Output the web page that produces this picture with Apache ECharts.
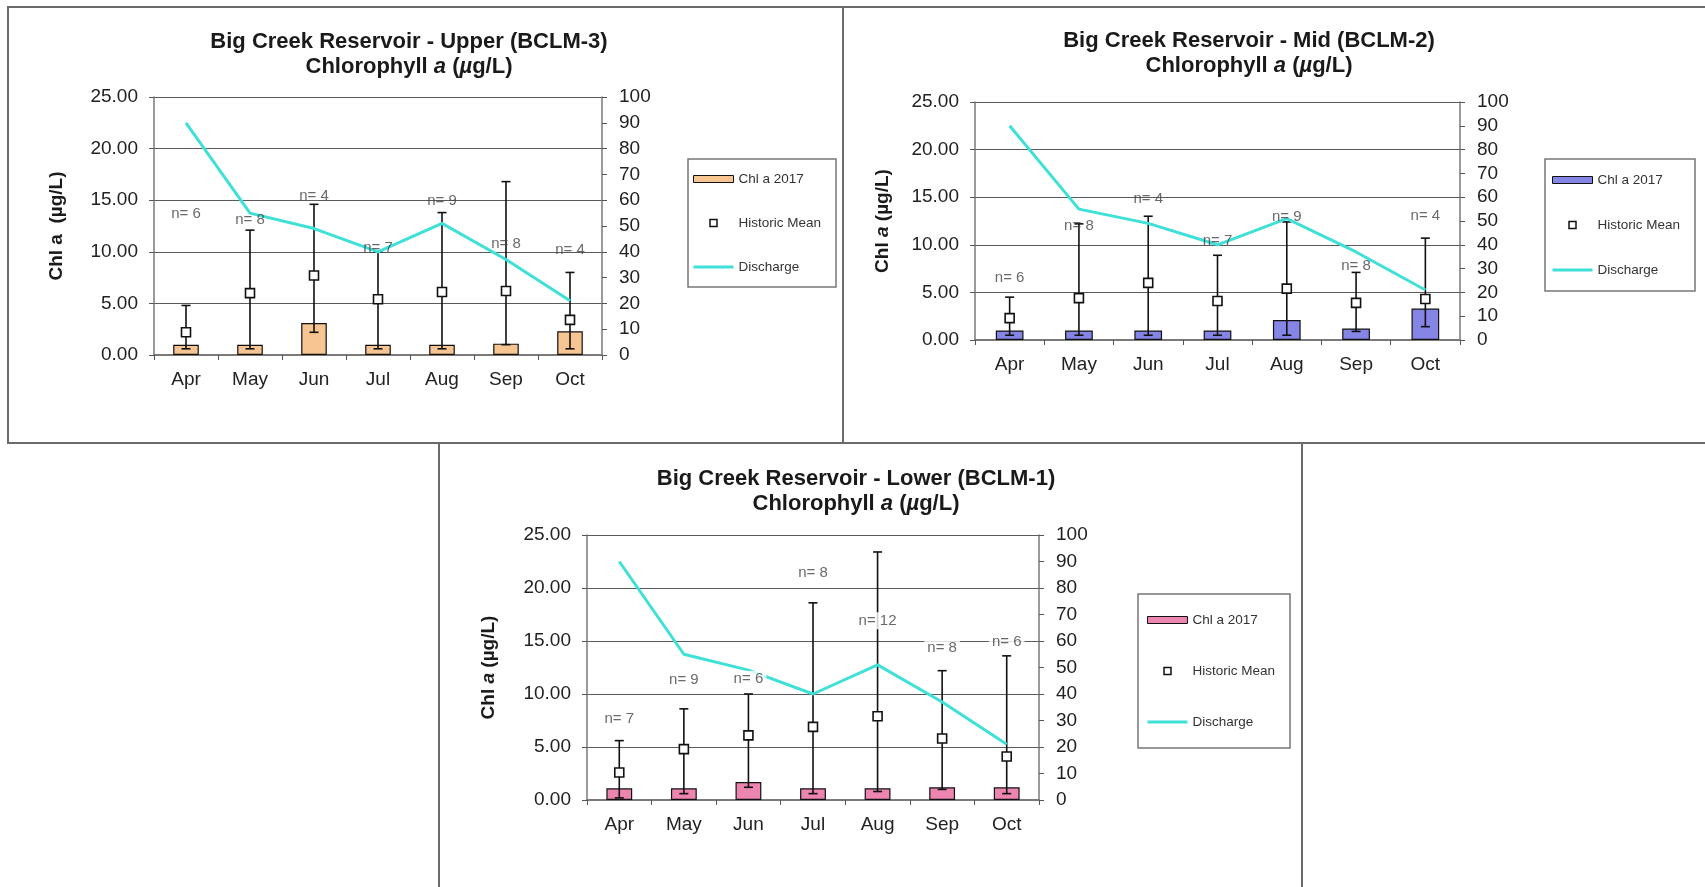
<!DOCTYPE html>
<html>
<head>
<meta charset="utf-8">
<script src="https://cdn.jsdelivr.net/npm/echarts@6/dist/echarts.min.js"></script>
<style>
  html, body { margin: 0; padding: 0; background: #fff; }
  #chart { width: 1705px; height: 887px; }
</style>
</head>
<body>
<div id="chart"></div>
<script>
// Sampling months and monthly discharge (right axis, same for every station)
const months = ['Apr', 'May', 'Jun', 'Jul', 'Aug', 'Sep', 'Oct'];
const discharge = [90, 55, 49, 40, 51, 37, 21];
const leftTicks = [0, 5, 10, 15, 20, 25];
const rightTicks = [0, 10, 20, 30, 40, 50, 60, 70, 80, 90, 100];

// Upper station (BCLM-3)
const upperChl2017 = [1.0, 1.0, 3.1, 1.0, 1.0, 1.1, 2.3];
const upperMean = [2.2, 6.0, 7.7, 5.4, 6.1, 6.2, 3.4];
const upperMin = [0.6, 0.6, 2.2, 0.6, 0.6, 1.0, 0.6];
const upperMax = [4.8, 12.1, 14.6, 10.0, 13.8, 16.8, 8.0];
const upperN = [6, 8, 4, 7, 9, 8, 4];
const upperNLabelAt = [13.7, 13.1, 15.4, 10.4, 14.9, 10.8, 10.2];

// Mid station (BCLM-2)
const midChl2017 = [1.0, 1.0, 1.0, 1.0, 2.1, 1.2, 3.3];
const midMean = [2.3, 4.4, 6.0, 4.1, 5.4, 3.9, 4.3];
const midMin = [0.5, 0.5, 0.5, 0.5, 0.5, 0.9, 1.4];
const midMax = [4.5, 12.2, 13.0, 8.9, 12.4, 7.1, 10.7];
const midN = [6, 8, 4, 7, 9, 8, 4];
const midNLabelAt = [6.5, 12.0, 14.8, 10.4, 12.95, 7.8, 13.0];

// Lower station (BCLM-1)
const lowerChl2017 = [1.1, 1.1, 1.7, 1.1, 1.1, 1.2, 1.2];
const lowerMean = [2.6, 4.8, 6.1, 6.9, 7.9, 5.8, 4.1];
const lowerMin = [0.2, 0.6, 1.2, 0.6, 0.8, 1.0, 0.6];
const lowerMax = [5.6, 8.6, 10.0, 18.6, 23.4, 12.2, 13.6];
const lowerN = [7, 9, 6, 8, 12, 8, 6];
const lowerNLabelAt = [7.7, 11.3, 11.4, 21.4, 16.9, 14.4, 14.9];

const FONT = '"Liberation Sans", Arial, sans-serif';
const CYAN = '#3ee0d8';

const panels = [
  {
    title: 'Big Creek Reservoir - Upper (BCLM-3)',
    yName: 'Chl a  (\u00b5g/L)',
    chl: upperChl2017, mean: upperMean, lo: upperMin, hi: upperMax, n: upperN, nAt: upperNLabelAt,
    color: '#f7c592',
    grid: { left: 154, top: 97, width: 448, height: 258 },
    titleX: 409, titleTop: 29, nameGap: 88,
    legend: { left: 688, top: 159, itemGap: 30, padding: [13, 15, 13, 5] },
    labelBg: null
  },
  {
    title: 'Big Creek Reservoir - Mid (BCLM-2)',
    yName: 'Chl {i|a} (\u00b5g/L)',
    chl: midChl2017, mean: midMean, lo: midMin, hi: midMax, n: midN, nAt: midNLabelAt,
    color: '#8585e6',
    grid: { left: 975, top: 102, width: 485, height: 238 },
    titleX: 1249, titleTop: 28, nameGap: 83,
    legend: { left: 1545, top: 159, itemGap: 31, padding: [14, 15, 14, 7] },
    labelBg: null
  },
  {
    title: 'Big Creek Reservoir - Lower (BCLM-1)',
    yName: 'Chl {i|a} (\u00b5g/L)',
    chl: lowerChl2017, mean: lowerMean, lo: lowerMin, hi: lowerMax, n: lowerN, nAt: lowerNLabelAt,
    color: '#ec85b0',
    grid: { left: 587, top: 535, width: 452, height: 265 },
    titleX: 856, titleTop: 466, nameGap: 89,
    legend: { left: 1138, top: 594, itemGap: 37, padding: [19, 15, 19, 9] },
    labelBg: '#fff'
  }
];

// Vertical min–max whisker with caps, placed through the axes' coordinate system
function errorBar(params, api) {
  const x = api.value(0);
  const lo = api.coord([x, api.value(1)]);
  const hi = api.coord([x, api.value(2)]);
  const cap = 4.5;
  const st = { stroke: '#111', lineWidth: 1.6 };
  return {
    type: 'group',
    children: [
      { type: 'line', shape: { x1: lo[0], y1: lo[1], x2: hi[0], y2: hi[1] }, style: st },
      { type: 'line', shape: { x1: hi[0] - cap, y1: hi[1], x2: hi[0] + cap, y2: hi[1] }, style: st },
      { type: 'line', shape: { x1: lo[0] - cap, y1: lo[1], x2: lo[0] + cap, y2: lo[1] }, style: st }
    ]
  };
}

const option = {
  animation: false,
  backgroundColor: '#fff',
  textStyle: { fontFamily: FONT },
  title: [], grid: [], xAxis: [], yAxis: [], legend: [], series: [],
  graphic: [
    { type: 'rect', shape: { x: 8, y: 7, width: 835, height: 436 }, style: { fill: 'none', stroke: '#6a6a6a', lineWidth: 2 } },
    { type: 'rect', shape: { x: 843, y: 7, width: 880, height: 436 }, style: { fill: 'none', stroke: '#6a6a6a', lineWidth: 2 } },
    { type: 'rect', shape: { x: 439, y: 443, width: 863, height: 470 }, style: { fill: 'none', stroke: '#6a6a6a', lineWidth: 2 } }
  ]
};

panels.forEach((p, i) => {
  option.title.push({
    text: p.title + '\nChlorophyll {i|a} ({i|\u00b5}g/L)',
    left: p.titleX, top: p.titleTop, textAlign: 'center', padding: 0,
    textStyle: {
      fontFamily: FONT, fontSize: 22, fontWeight: 'bold', color: '#1a1a1a', lineHeight: 25,
      rich: { i: { fontFamily: FONT, fontSize: 22, fontWeight: 'bold', fontStyle: 'italic', color: '#1a1a1a', lineHeight: 25 } }
    }
  });

  option.grid.push(Object.assign({ containLabel: false }, p.grid));

  option.xAxis.push({
    gridIndex: i, type: 'category', data: months, boundaryGap: true,
    axisLine: { show: true, lineStyle: { color: '#7a7a7a', width: 2 } },
    axisTick: { show: true, length: 5, lineStyle: { color: '#555' } },
    axisLabel: { fontFamily: FONT, fontSize: 19, color: '#222', margin: 15 },
    splitLine: { show: false }
  });

  option.yAxis.push({
    gridIndex: i, type: 'value', position: 'left',
    min: leftTicks[0], max: leftTicks[leftTicks.length - 1], interval: leftTicks[1] - leftTicks[0],
    name: p.yName, nameLocation: 'middle', nameGap: p.nameGap,
    nameTextStyle: {
      fontFamily: FONT, fontSize: 19, fontWeight: 'bold', color: '#1a1a1a',
      rich: { i: { fontFamily: FONT, fontSize: 19, fontWeight: 'bold', fontStyle: 'italic', color: '#1a1a1a' } }
    },
    axisLine: { show: true, lineStyle: { color: '#7a7a7a', width: 1.5 } },
    axisTick: { show: true, length: 5, lineStyle: { color: '#555' } },
    axisLabel: { fontFamily: FONT, fontSize: 19, color: '#222', margin: 16, formatter: v => v.toFixed(2) },
    splitLine: { show: true, lineStyle: { color: '#5a5a5a', width: 1 } }
  });

  option.yAxis.push({
    gridIndex: i, type: 'value', position: 'right',
    min: rightTicks[0], max: rightTicks[rightTicks.length - 1], interval: rightTicks[1] - rightTicks[0],
    axisLine: { show: true, lineStyle: { color: '#7a7a7a', width: 1.5 } },
    axisTick: { show: true, length: 5, lineStyle: { color: '#555' } },
    axisLabel: { fontFamily: FONT, fontSize: 19, color: '#222', margin: 17 },
    splitLine: { show: false }
  });

  option.legend.push({
    orient: 'vertical', align: 'left', selectedMode: false,
    left: p.legend.left, top: p.legend.top, itemGap: p.legend.itemGap, padding: p.legend.padding,
    itemWidth: 40, itemHeight: 7,
    borderColor: '#777', borderWidth: 1.5,
    textStyle: { fontFamily: FONT, fontSize: 13.5, color: '#333' },
    data: [
      { name: 'Chl a 2017', icon: 'rect', itemStyle: { color: p.color, borderColor: '#111', borderWidth: 1 } },
      { name: 'Historic Mean', icon: 'path://M0,0H10V10H0Z', itemStyle: { color: '#fff', borderColor: '#111', borderWidth: 1.5 } },
      { name: 'Discharge', icon: 'path://M0,0H40V3H0Z', itemStyle: { color: CYAN, borderWidth: 0 } }
    ]
  });

  const xi = i, yl = 2 * i, yr = 2 * i + 1;

  option.series.push({
    name: 'Chl a 2017', type: 'bar', xAxisIndex: xi, yAxisIndex: yl,
    data: p.chl, barWidth: '40%', z: 2,
    itemStyle: { color: p.color, borderColor: '#111', borderWidth: 1.2 }
  });

  option.series.push({
    name: 'Range', type: 'custom', xAxisIndex: xi, yAxisIndex: yl, z: 3,
    data: p.lo.map((v, k) => [k, v, p.hi[k]]),
    encode: { x: 0, y: [1, 2] },
    renderItem: errorBar
  });

  option.series.push({
    name: 'Historic Mean', type: 'scatter', xAxisIndex: xi, yAxisIndex: yl, z: 4,
    data: p.mean, symbol: 'rect', symbolSize: 9,
    itemStyle: { color: '#fff', borderColor: '#111', borderWidth: 1.6, opacity: 1 }
  });

  option.series.push({
    name: 'Discharge', type: 'line', xAxisIndex: xi, yAxisIndex: yr, z: 5,
    data: discharge, symbol: 'none', showSymbol: false,
    lineStyle: { color: CYAN, width: 3 }, itemStyle: { color: CYAN }
  });

  option.series.push({
    name: 'n', type: 'scatter', xAxisIndex: xi, yAxisIndex: yl, z: 10, silent: true,
    data: p.nAt.map((y, k) => [k, y]), symbolSize: 1,
    itemStyle: { color: 'rgba(0,0,0,0)' },
    label: {
      show: true, position: 'inside', fontFamily: FONT, fontSize: 15, color: '#444',
      backgroundColor: p.labelBg || 'transparent', padding: p.labelBg ? [1, 3] : 0,
      formatter: prm => 'n= ' + p.n[prm.dataIndex]
    }
  });
});

const chart = echarts.init(document.getElementById('chart'), null, { renderer: 'canvas' });
chart.setOption(option);
</script>
</body>
</html>
